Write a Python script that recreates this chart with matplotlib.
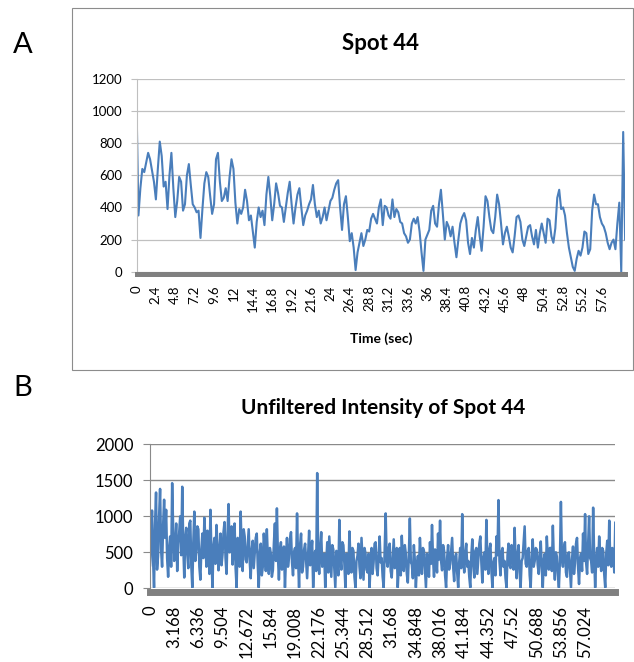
import numpy as np
import matplotlib
matplotlib.use("Agg")
import matplotlib.pyplot as plt
from matplotlib.patches import Rectangle

plt.rcParams["font.family"] = ["Lato", "DejaVu Sans"]

# -------------------
# Data
# -------------------

# Panel A: filtered intensity, one sample every 0.24 s
step_a = 0.24
spot44_filtered = [
    1050, 350, 520, 640, 620, 680, 740, 700, 630, 560,
    450, 640, 810, 720, 530, 560, 390, 600, 740, 520,
    340, 440, 590, 560, 380, 420, 600, 670, 540, 420,
    400, 370, 380, 210, 390, 550, 620, 590, 470, 360,
    420, 700, 740, 560, 440, 460, 520, 440, 590, 700,
    640, 430, 300, 390, 360, 400, 510, 440, 320, 350,
    250, 150, 310, 400, 340, 380, 290, 480, 590, 470,
    320, 420, 550, 490, 410, 400, 310, 400, 490, 560,
    420, 300, 400, 480, 520, 400, 290, 350, 380, 420,
    450, 540, 420, 340, 380, 300, 340, 400, 320, 380,
    440, 460, 510, 550, 570, 400, 260, 420, 470, 340,
    190, 240, 150, 10, 120, 180, 240, 160, 200, 260,
    250, 330, 360, 330, 300, 400, 450, 290, 410, 400,
    350, 330, 450, 340, 390, 370, 310, 300, 240, 220,
    180, 200, 300, 330, 300, 340, 250, 120, 5, 200,
    230, 260, 380, 410, 300, 280, 420, 510, 360, 200,
    310, 280, 220, 280, 180, 90, 200, 300, 340, 365,
    320, 180, 110, 210, 150, 260, 340, 220, 130, 280,
    470, 440, 340, 260, 240, 340, 480, 420, 300, 170,
    240, 280, 220, 150, 120, 220, 340, 350, 310, 200,
    160, 220, 280, 290, 220, 170, 260, 150, 240, 300,
    240, 180, 330, 320, 220, 180, 270, 460, 510, 390,
    400, 350, 240, 150, 90, 30, 5, 80, 130, 100,
    150, 250, 240, 110, 140, 380, 480, 420, 420, 340,
    300, 280, 240, 180, 140, 180, 200, 140, 300, 430,
    0, 870, 200
]

# Panel B: unfiltered intensity, one sample every 0.132 s
step_b = 0.132
spot44_unfiltered = [
    320, 640, 1080, 420, 10, 880, 1330, 260, 450, 980, 1380, 540,
    300, 860, 1230, 700, 1090, 420, 160, 560, 720, 300, 1460, 820,
    380, 560, 900, 240, 620, 780, 1000, 460, 1410, 620, 150, 700,
    840, 480, 280, 900, 940, 320, 10, 640, 1065, 380, 530, 860,
    820, 300, 120, 540, 760, 420, 980, 660, 300, 800, 620, 200,
    1090, 460, 10, 580, 700, 340, 880, 600, 250, 480, 760, 320,
    470, 780, 920, 420, 200, 760, 1170, 500, 640, 860, 330, 560,
    900, 280, 10, 700, 580, 300, 1065, 520, 240, 820, 720, 400,
    360, 600, 820, 380, 140, 540, 660, 280, 480, 700, 760, 320,
    10, 500, 620, 180, 300, 760, 560, 240, 820, 420, 200, 560,
    480, 160, 250, 620, 900, 380, 1110, 460, 120, 520, 640, 260,
    350, 580, 10, 420, 700, 300, 420, 680, 780, 360, 180, 500,
    560, 280, 1040, 420, 10, 600, 760, 220, 300, 540, 620, 380,
    140, 460, 800, 320, 480, 660, 10, 380, 520, 240, 1600, 420,
    200, 560, 780, 300, 380, 480, 10, 360, 640, 220, 720, 440,
    160, 600, 540, 280, 10, 520, 420, 180, 950, 400, 260, 640,
    600, 340, 10, 480, 380, 200, 790, 420, 220, 560, 520, 160,
    10, 380, 450, 620, 300, 140, 700, 400, 120, 560, 480, 260,
    220, 480, 10, 340, 560, 200, 360, 620, 640, 280, 180, 440,
    720, 360, 420, 160, 10, 500, 1040, 380, 300, 560, 620, 240,
    150, 420, 680, 280, 400, 560, 10, 320, 560, 180, 730, 420,
    240, 600, 480, 200, 80, 460, 970, 360, 330, 140, 600, 380,
    10, 300, 450, 180, 700, 420, 200, 560, 520, 260, 10, 480,
    380, 160, 640, 340, 880, 420, 160, 540, 430, 220, 760, 400,
    940, 380, 250, 600, 520, 180, 10, 420, 600, 260, 340, 520,
    700, 300, 100, 440, 480, 220, 10, 360, 560, 280, 1030, 420,
    220, 480, 620, 300, 380, 160, 10, 440, 680, 340, 150, 520,
    560, 200, 400, 620, 720, 360, 80, 420, 500, 260, 950, 380,
    200, 540, 620, 240, 10, 360, 420, 180, 720, 460, 1225, 380,
    180, 500, 560, 300, 380, 140, 10, 460, 620, 320, 280, 600,
    520, 260, 840, 400, 140, 480, 600, 220, 10, 380, 420, 640,
    860, 340, 300, 520, 560, 180, 10, 440, 680, 300, 380, 560,
    540, 320, 200, 460, 650, 280, 10, 400, 480, 180, 720, 420,
    260, 560, 560, 240, 870, 380, 120, 500, 440, 200, 10, 380,
    1200, 420, 300, 560, 640, 220, 160, 480, 500, 260, 10, 400,
    580, 200, 350, 620, 700, 300, 60, 420, 480, 240, 760, 380,
    1030, 360, 200, 580, 1000, 420, 380, 220, 1120, 460, 10, 380,
    560, 300, 720, 420, 240, 560, 520, 200, 10, 480, 660, 320,
    940, 380, 300, 560, 480, 220, 910
]

time_a = np.arange(len(spot44_filtered)) * step_a
time_b = np.arange(len(spot44_unfiltered)) * step_b

blue = "#4a7ebb"

fig = plt.figure(figsize=(6.34, 6.62), dpi=100)

# border round panel A
fig.patches.append(
    Rectangle(
        (72 / 634, 1 - 370 / 662),
        561 / 634,
        362 / 662,
        transform=fig.transFigure,
        fill=False,
        edgecolor="#8c8c8c",
        linewidth=0.8
    )
)

fig.text(23 / 634, 1 - 45 / 662, "A", fontsize=21, ha="center", va="center")
fig.text(23 / 634, 1 - 388 / 662, "B", fontsize=21, ha="center", va="center")

# -------------------
# Panel A
# -------------------

ax1 = fig.add_axes([0.2153, 0.5896, 0.7707, 0.2911])

ax1.plot(time_a, spot44_filtered, color=blue, linewidth=1.5)

ax1.set_xlim(0, time_a[-1])
ax1.set_ylim(0, 1200)
ax1.set_yticks(range(0, 1201, 200))

ticks_a = time_a[:241:10]
ax1.set_xticks(ticks_a)
ax1.set_xticklabels(["%g" % round(v, 3) for v in ticks_a])

ax1.grid(axis="y", color="#c0c0c0", linewidth=0.9)
ax1.set_axisbelow(True)

for s in ["top", "right"]:
    ax1.spines[s].set_visible(False)
ax1.spines["left"].set_color("#bfbfbf")
ax1.spines["bottom"].set_color("#808080")
ax1.spines["bottom"].set_linewidth(3.6)
ax1.spines["bottom"].set_position(("outward", 1.8))

ax1.tick_params(axis="y", length=4, color="#bfbfbf", labelsize=9.5, pad=6)
ax1.tick_params(axis="x", length=0, labelsize=9.5, pad=8, labelrotation=90)

ax1.set_title("Spot 44", fontsize=16, fontweight="bold", pad=21)
ax1.set_xlabel("Time (sec)", fontsize=10, fontweight="bold", labelpad=15)

# -------------------
# Panel B
# -------------------

ax2 = fig.add_axes([0.2366, 0.1113, 0.7339, 0.2176])

ax2.plot(time_b, spot44_unfiltered, color=blue, linewidth=1.8)

ax2.set_xlim(0, time_b[-1])
ax2.set_ylim(0, 2000)
ax2.set_yticks(range(0, 2001, 500))

ticks_b = time_b[:433:24]
ax2.set_xticks(ticks_b)
ax2.set_xticklabels(["%g" % round(v, 3) for v in ticks_b])

ax2.grid(axis="y", color="#8a8a8a", linewidth=1.0)
ax2.set_axisbelow(True)

for s in ["top", "right"]:
    ax2.spines[s].set_visible(False)
ax2.spines["left"].set_color("#8a8a8a")
ax2.spines["bottom"].set_color("#808080")
ax2.spines["bottom"].set_linewidth(5)
ax2.spines["bottom"].set_position(("outward", 2.5))

ax2.tick_params(axis="y", length=5, color="#8a8a8a", labelsize=12, pad=7)
ax2.tick_params(axis="x", length=0, labelsize=12, pad=10, labelrotation=90)

ax2.set_title("Unfiltered Intensity of Spot 44", fontsize=15, fontweight="bold", pad=22)

plt.savefig("out.png", dpi=100)
